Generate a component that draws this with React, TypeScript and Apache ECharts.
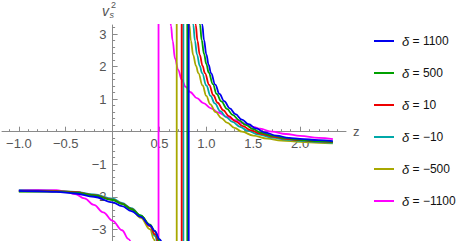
import React, { useEffect, useRef } from 'react';
import * as echarts from 'echarts';

// δ values (legend labels), colours, pole positions (vertical jumps)
const deltaNames = ['1100', '500', '10', '−10', '−500', '−1100'];
const lineColors = ['#0000ee', '#00a000', '#ee0000', '#00a8a8', '#a8a800', '#ff00ff'];
const poleX = [0.812, 0.797, 0.737, 0.755, 0.684, 0.49];

// Left branches (z, v_s^2)
const blueLeft = [[-1, -1.82], [-0.8, -1.83], [-0.6, -1.85], [-0.4, -1.9], [-0.2, -2.0], [0, -2.17], [0.1, -2.29], [0.2, -2.44], [0.3, -2.62], [0.4, -2.88], [0.45, -3.05], [0.5, -3.3], [0.54, -3.55]];
const greenLeft = [[-1, -1.84], [-0.8, -1.84], [-0.6, -1.84], [-0.4, -1.87], [-0.2, -1.96], [0, -2.1], [0.1, -2.22], [0.2, -2.38], [0.3, -2.58], [0.4, -2.86], [0.45, -3.06], [0.5, -3.36], [0.53, -3.55]];
const redLeft = [[-1, -1.82], [-0.8, -1.82], [-0.6, -1.83], [-0.4, -1.86], [-0.2, -1.95], [0, -2.09], [0.1, -2.21], [0.2, -2.37], [0.3, -2.59], [0.4, -2.9], [0.45, -3.15], [0.49, -3.5]];
const tealLeft = [[-1, -1.8], [-0.8, -1.81], [-0.6, -1.82], [-0.4, -1.85], [-0.2, -1.93], [0, -2.06], [0.1, -2.19], [0.2, -2.35], [0.3, -2.57], [0.4, -2.9], [0.45, -3.2], [0.48, -3.5]];
const oliveLeft = [[-1, -1.83], [-0.8, -1.83], [-0.6, -1.83], [-0.4, -1.86], [-0.2, -1.95], [0, -2.08], [0.1, -2.22], [0.2, -2.4], [0.3, -2.65], [0.4, -3.0], [0.44, -3.3], [0.46, -3.5]];
const magentaLeft = [[-1, -1.79], [-0.8, -1.79], [-0.6, -1.8], [-0.5, -1.84], [-0.4, -1.92], [-0.3, -2.05], [-0.2, -2.25], [-0.1, -2.48], [0, -2.74], [0.1, -3.03], [0.17, -3.3], [0.2, -3.45]];

// Right branches (z, v_s^2)
const blueRight = [[0.945, 3.6], [0.957, 3.28], [0.975, 2.82], [1.0, 2.38], [1.025, 2.05], [1.05, 1.8], [1.095, 1.45], [1.14, 1.16], [1.19, 0.94], [1.25, 0.72], [1.31, 0.54], [1.38, 0.37], [1.45, 0.23], [1.53, 0.1], [1.62, -0.02], [1.75, -0.12], [1.88, -0.19], [2.0, -0.22], [2.2, -0.26], [2.35, -0.29]];
const greenRight = [[0.92, 3.6], [0.933, 3.28], [0.95, 2.82], [0.975, 2.4], [1.0, 2.08], [1.025, 1.82], [1.07, 1.46], [1.11, 1.16], [1.16, 0.93], [1.22, 0.7], [1.28, 0.52], [1.35, 0.35], [1.42, 0.21], [1.5, 0.08], [1.58, -0.03], [1.72, -0.13], [1.85, -0.2], [2.0, -0.25], [2.2, -0.29], [2.35, -0.31]];
const redRight = [[0.875, 3.6], [0.887, 3.28], [0.905, 2.8], [0.93, 2.36], [0.96, 2.02], [0.985, 1.8], [1.03, 1.44], [1.075, 1.12], [1.12, 0.89], [1.18, 0.66], [1.24, 0.48], [1.31, 0.32], [1.39, 0.17], [1.47, 0.05], [1.57, -0.06], [1.72, -0.16], [1.85, -0.22], [2.0, -0.26], [2.2, -0.3], [2.35, -0.32]];
const tealRight = [[0.85, 3.6], [0.861, 3.28], [0.878, 2.8], [0.9, 2.38], [0.93, 2.02], [0.955, 1.8], [1.0, 1.42], [1.045, 1.1], [1.09, 0.87], [1.15, 0.63], [1.21, 0.45], [1.28, 0.3], [1.36, 0.15], [1.44, 0.03], [1.55, -0.08], [1.7, -0.18], [1.85, -0.24], [2.0, -0.28], [2.2, -0.32], [2.35, -0.34]];
const oliveRight = [[0.81, 3.6], [0.819, 3.28], [0.835, 2.8], [0.86, 2.35], [0.89, 2.02], [0.915, 1.8], [0.96, 1.42], [1.0, 1.1], [1.04, 0.85], [1.1, 0.6], [1.16, 0.42], [1.22, 0.28], [1.3, 0.12], [1.38, 0.0], [1.5, -0.12], [1.65, -0.21], [1.8, -0.27], [2.0, -0.31], [2.2, -0.34], [2.35, -0.36]];
const magentaRight = [[0.61, 3.6], [0.623, 3.25], [0.64, 2.8], [0.666, 2.25], [0.7, 1.9], [0.737, 1.6], [0.78, 1.38], [0.826, 1.22], [0.9, 1.03], [0.968, 0.88], [1.05, 0.72], [1.13, 0.59], [1.218, 0.46], [1.3, 0.36], [1.4, 0.25], [1.5, 0.15], [1.573, 0.09], [1.7, 0.0], [1.85, -0.07], [2.0, -0.13], [2.2, -0.19], [2.35, -0.23]];

const leftBranches = [blueLeft, greenLeft, redLeft, tealLeft, oliveLeft, magentaLeft];
const rightBranches = [blueRight, greenRight, redRight, tealRight, oliveRight, magentaRight];

const xTickLabels = [-1.0, -0.5, 0.5, 1.0, 1.5, 2.0];
const yTickLabels = [-3, -2, -1, 1, 2, 3];
const xMajorTicks = [-1.0, -0.5, 0.5, 1.0, 1.5, 2.0];
const yMajorTicks = [-3, -2, -1, 1, 2, 3];

const fmtNum = (v: number, digits: number) => {
  const s = Math.abs(v).toFixed(digits);
  return v < 0 ? '−' + s : s;
};

const AXIS_GRAY = '#8a8a8a';
const LABEL_GRAY = '#555555';
const FONT = '"Liberation Sans", Arial, sans-serif';

export default function App() {
  const ref = useRef<HTMLDivElement>(null);
  useEffect(() => {
    if (!ref.current) return;
    const chart = echarts.init(ref.current, null, { renderer: 'svg' });
    const series: any[] = [];
    deltaNames.forEach((name, i) => {
      const common = {
        name,
        type: 'line',
        showSymbol: false,
        symbol: 'none',
        clip: true,
        color: lineColors[i],
        lineStyle: { width: 1.8, color: lineColors[i] },
        emphasis: { disabled: true },
        z: 10 - i,
      };
      series.push({ ...common, smooth: 0.4, smoothMonotone: 'x', data: leftBranches[i] });
      series.push({ ...common, data: [[poleX[i], -10], [poleX[i], 10]] });
      series.push({ ...common, smooth: 0.4, smoothMonotone: 'x', data: rightBranches[i] });
    });

    // tick labels placed at the axes crossing through the library's coordinate conversion
    series.push({
      type: 'custom',
      name: 'xlabels',
      coordinateSystem: 'cartesian2d',
      silent: true,
      z: 1,
      data: xTickLabels.map((v) => [v, 0]),
      renderItem: (_p: any, api: any) => {
        const v = api.value(0);
        const pt = api.coord([v, 0]);
        return {
          type: 'text',
          x: pt[0],
          y: pt[1] + 5,
          style: { text: fmtNum(v, 1), fill: LABEL_GRAY, fontSize: 13, fontFamily: FONT, align: 'center', verticalAlign: 'top' },
        };
      },
    });
    series.push({
      type: 'custom',
      name: 'ylabels',
      coordinateSystem: 'cartesian2d',
      silent: true,
      z: 1,
      data: yTickLabels.map((v) => [0, v]),
      renderItem: (_p: any, api: any) => {
        const v = api.value(1);
        const pt = api.coord([0, v]);
        return {
          type: 'text',
          x: pt[0] - 6,
          y: pt[1],
          style: { text: fmtNum(v, 0), fill: LABEL_GRAY, fontSize: 13, fontFamily: FONT, align: 'right', verticalAlign: 'middle' },
        };
      },
    });

    chart.setOption({
      animation: false,
      grid: { left: 2, top: 25, width: 344, height: 216, containLabel: false, outerBoundsMode: 'none' },
      xAxis: {
        type: 'value',
        min: -1.18,
        max: 2.49,
        minInterval: 0.5,
        maxInterval: 0.5,
        name: 'z',
        nameLocation: 'end',
        nameGap: 7,
        nameTextStyle: { color: LABEL_GRAY, fontSize: 13, fontFamily: FONT },
        axisLine: { onZero: true, lineStyle: { color: AXIS_GRAY, width: 1 } },
        axisTick: { show: true, inside: true, length: 5, customValues: xMajorTicks, lineStyle: { color: AXIS_GRAY } },
        minorTick: { show: true, splitNumber: 5, length: 2.5, lineStyle: { color: AXIS_GRAY } },
        axisLabel: { show: false },
        splitLine: { show: false },
        minorSplitLine: { show: false },
      },
      yAxis: {
        type: 'value',
        min: -3.36,
        max: 3.28,
        minInterval: 1,
        maxInterval: 1,
        axisLine: { onZero: true, lineStyle: { color: AXIS_GRAY, width: 1 } },
        axisTick: { show: true, inside: true, length: 5, customValues: yMajorTicks, lineStyle: { color: AXIS_GRAY } },
        minorTick: { show: true, splitNumber: 5, length: 2.5, lineStyle: { color: AXIS_GRAY } },
        axisLabel: { show: false },
        splitLine: { show: false },
        minorSplitLine: { show: false },
      },
      legend: {
        orient: 'vertical',
        left: 374,
        top: 33,
        padding: 0,
        itemGap: 16,
        itemWidth: 20,
        itemHeight: 2,
        icon: 'rect',
        data: deltaNames,
        selectedMode: false,
        formatter: (name: string) => `{d|δ} = ${name}`,
        textStyle: {
          color: '#111',
          fontSize: 12,
          lineHeight: 16,
          fontFamily: FONT,
          padding: [0, 0, 0, 3],
          rich: {
            d: { fontStyle: 'italic', fontSize: 13, lineHeight: 16, fontFamily: FONT, color: '#111' },
          },
        },
      },
      graphic: [
        { type: 'text', left: 102, top: 4, style: { text: 'v', fontSize: 14, fontStyle: 'italic', fontFamily: FONT, fill: LABEL_GRAY } },
        { type: 'text', left: 111, top: 0, style: { text: '2', fontSize: 9, fontFamily: FONT, fill: LABEL_GRAY } },
        { type: 'text', left: 109.5, top: 10, style: { text: 's', fontSize: 9, fontStyle: 'italic', fontFamily: FONT, fill: LABEL_GRAY } },
      ],
      series,
    });
    return () => chart.dispose();
  }, []);
  return <div ref={ref} style={{ position: 'fixed', left: 0, top: 0, width: 467, height: 241, background: '#fff' }} />;
}
